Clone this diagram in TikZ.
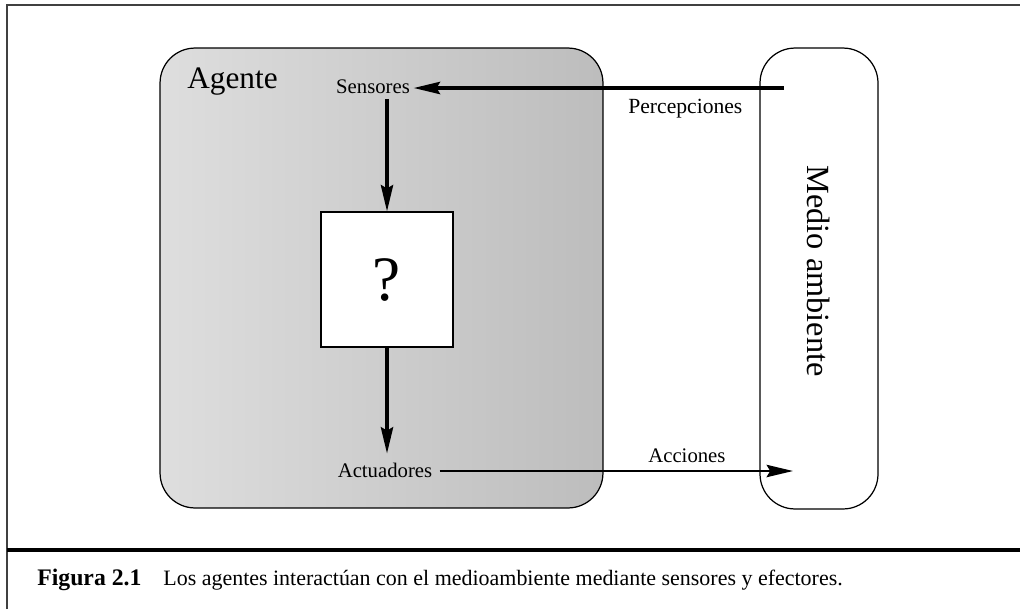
\documentclass[tikz,border=0pt]{standalone}
\usepackage{fontspec}
\setmainfont{Liberation Serif}
\usetikzlibrary{arrows.meta}

\tikzset{
  flecha/.style={line width=1.8pt,-{Stealth[length=15pt,width=7pt,inset=2pt]}},
  caja/.style={draw,line width=0.7pt,rounded corners=0.7cm,inner sep=0pt},
  etiq/.style={font=\fontsize{11.8}{13}\selectfont,inner sep=0pt},
}

\begin{document}
\begin{tikzpicture}[x=0.02cm,y=-0.02cm]
\useasboundingbox (0,0) rectangle (1020,609);
\draw[black!75,line width=0.7pt] (7,609) -- (7,5) -- (1020,5);
\draw[line width=2.2pt] (7,550) -- (1020,550);
  \node[caja,left color=black!13,right color=black!26,minimum width=8.86cm,minimum height=9.2cm] (agente) at (381.5,278) {};
  \node[caja,fill=white,minimum width=2.36cm,minimum height=9.22cm] (medio) at (819,278.5) {};
  \node[anchor=base west,inner sep=0pt,font=\fontsize{17.8}{20}\selectfont] (tagente) at (187,88) {Agente};
  \node[etiq,anchor=base] (sens) at (373,93) {Sensores};
  \node[draw,fill=white,line width=0.8pt,minimum width=2.64cm,minimum height=2.7cm,font=\fontsize{36}{38}\selectfont] (caja) at (387,279.5) {?};
  \node[etiq,anchor=base] (act) at (385,477) {Actuadores};
  \node[etiq,anchor=base west,font=\fontsize{12.3}{14}\selectfont] (perc) at (628,113) {Percepciones};
  \node[etiq,anchor=base west] (acc) at (648,462) {Acciones};
  \node[rotate=-90,inner sep=0pt,font=\fontsize{18.4}{20}\selectfont] (tmedio) at (819,271) {Medio ambiente};
  \coordinate (entrada) at (784,88);
  \coordinate (salida) at (793,471);
  \draw[flecha,shorten >=2pt] (entrada) -- (sens.east |- entrada);
  \draw[flecha,shorten <=3pt] (caja.north |- sens.south) -- (caja.north);
  \draw[flecha,shorten >=5pt] (caja.south) -- (caja.south |- act.north);
  \draw[flecha,line width=1.4pt,shorten <=4pt] (act.east |- salida) -- (salida);
\node[anchor=base west,inner sep=0pt,font=\fontsize{13.5}{15}\selectfont\bfseries] (fig) at (37,585) {Figura 2.1};
\node[anchor=base west,inner sep=0pt,font=\fontsize{12.5}{14}\selectfont] (pie) at (163,585) {Los agentes interactúan con el medioambiente mediante sensores y efectores.};
\end{tikzpicture}
\end{document}
